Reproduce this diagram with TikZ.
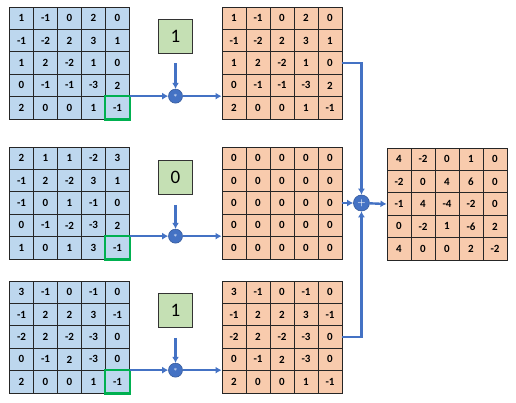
\documentclass[tikz,border=0pt]{standalone}
\usepackage{fontspec}
\newfontfamily\cellfont{Carlito}
\usetikzlibrary{positioning,shapes,arrows,arrows.meta}

\definecolor{cellblue}{HTML}{BDD7EE}
\definecolor{cellorange}{HTML}{F8CBAD}
\definecolor{kernelgreen}{HTML}{C5E0B4}
\definecolor{linkblue}{HTML}{4472C4}
\definecolor{markgreen}{HTML}{00B050}

% name, left, top, style, rows
\newcommand{\cellgrid}[5]{%
  \foreach \row [count=\i] in {#5} {
    \foreach \v [count=\j] in \row {
      \node[#4] (#1-\i-\j) at ({#2+(\j-0.5)*24},{#3+(\i-0.5)*22.4}) {\v};
    }
  }
}

\begin{document}
\begin{tikzpicture}[
  x=1pt, y=-1pt,
  cell/.style={draw=black!85,line width=0.9pt,minimum width=24pt,minimum height=22.4pt,
    inner sep=0pt,font=\cellfont\bfseries\fontsize{11}{13}\selectfont},
  incell/.style={cell,fill=cellblue},
  outcell/.style={cell,fill=cellorange},
  kernel/.style={draw=black!80,line width=0.8pt,fill=kernelgreen,minimum size=34pt,
    inner sep=0pt,font=\cellfont\fontsize{19}{21}\selectfont},
  op/.style={circle,draw=linkblue!80!black,line width=0.6pt,fill=linkblue,text=white,
    inner sep=0pt,minimum size=#1},
  link/.style={draw=linkblue,line width=2.4pt,-{Latex[length=6pt,width=7pt]}},
  hilite/.style={draw=markgreen,line width=2.6pt}
]
\useasboundingbox (0,0) rectangle (516,402);

% input grids
\cellgrid{a1}{9.5}{7}{incell}{{1,-1,0,2,0},{-1,-2,2,3,1},{1,2,-2,1,0},{0,-1,-1,-3,2},{2,0,0,1,-1}}
\cellgrid{a2}{9.5}{147}{incell}{{2,1,1,-2,3},{-1,2,-2,3,1},{-1,0,1,-1,0},{0,-1,-2,-3,2},{1,0,1,3,-1}}
\cellgrid{a3}{9.5}{281}{incell}{{3,-1,0,-1,0},{-1,2,2,3,-1},{-2,2,-2,-3,0},{0,-1,2,-3,0},{2,0,0,1,-1}}

% scaled grids
\cellgrid{b1}{222}{7}{outcell}{{1,-1,0,2,0},{-1,-2,2,3,1},{1,2,-2,1,0},{0,-1,-1,-3,2},{2,0,0,1,-1}}
\cellgrid{b2}{222}{147}{outcell}{{0,0,0,0,0},{0,0,0,0,0},{0,0,0,0,0},{0,0,0,0,0},{0,0,0,0,0}}
\cellgrid{b3}{222}{281}{outcell}{{3,-1,0,-1,0},{-1,2,2,3,-1},{-2,2,-2,-3,0},{0,-1,2,-3,0},{2,0,0,1,-1}}

% sum grid
\cellgrid{c}{387}{148}{outcell}{{4,-2,0,1,0},{-2,0,4,6,0},{-1,4,-4,-2,0},{0,-2,1,-6,2},{4,0,0,2,-2}}

% highlighted cells
\foreach \g in {a1,a2,a3}
  \draw[hilite] (\g-5-5.north west) rectangle (\g-5-5.south east);

% kernels
\node[kernel] (k1) at (175.5,36) {1};
\node[kernel] (k2) at (175.5,177.5) {0};
\node[kernel] (k3) at (175.5,310.5) {1};

\foreach \n in {1,2,3} {
  \node[op=14pt,font=\scriptsize] (m\n) at (k\n |- a\n-5-5.north east) {$\ast$};
  \draw[link] ([yshift=-10pt]k\n.south) -- (m\n);
  \draw[link] (a\n-5-5.north east) -- (m\n);
  \draw[link] (m\n) -- (b\n-5-1.north west);
}

% sum
\node[op=16pt,font=\small\bfseries] (s) at ([xshift=19pt]b2-3-5.east) {+};
\draw[link] (b1-3-5.east) -| (s);
\draw[link] (b3-3-5.east) -| (s);
\draw[link] (b2-3-5.east) -- (s);
\draw[link] (s) -- (c-3-1.west);
\end{tikzpicture}
\end{document}
